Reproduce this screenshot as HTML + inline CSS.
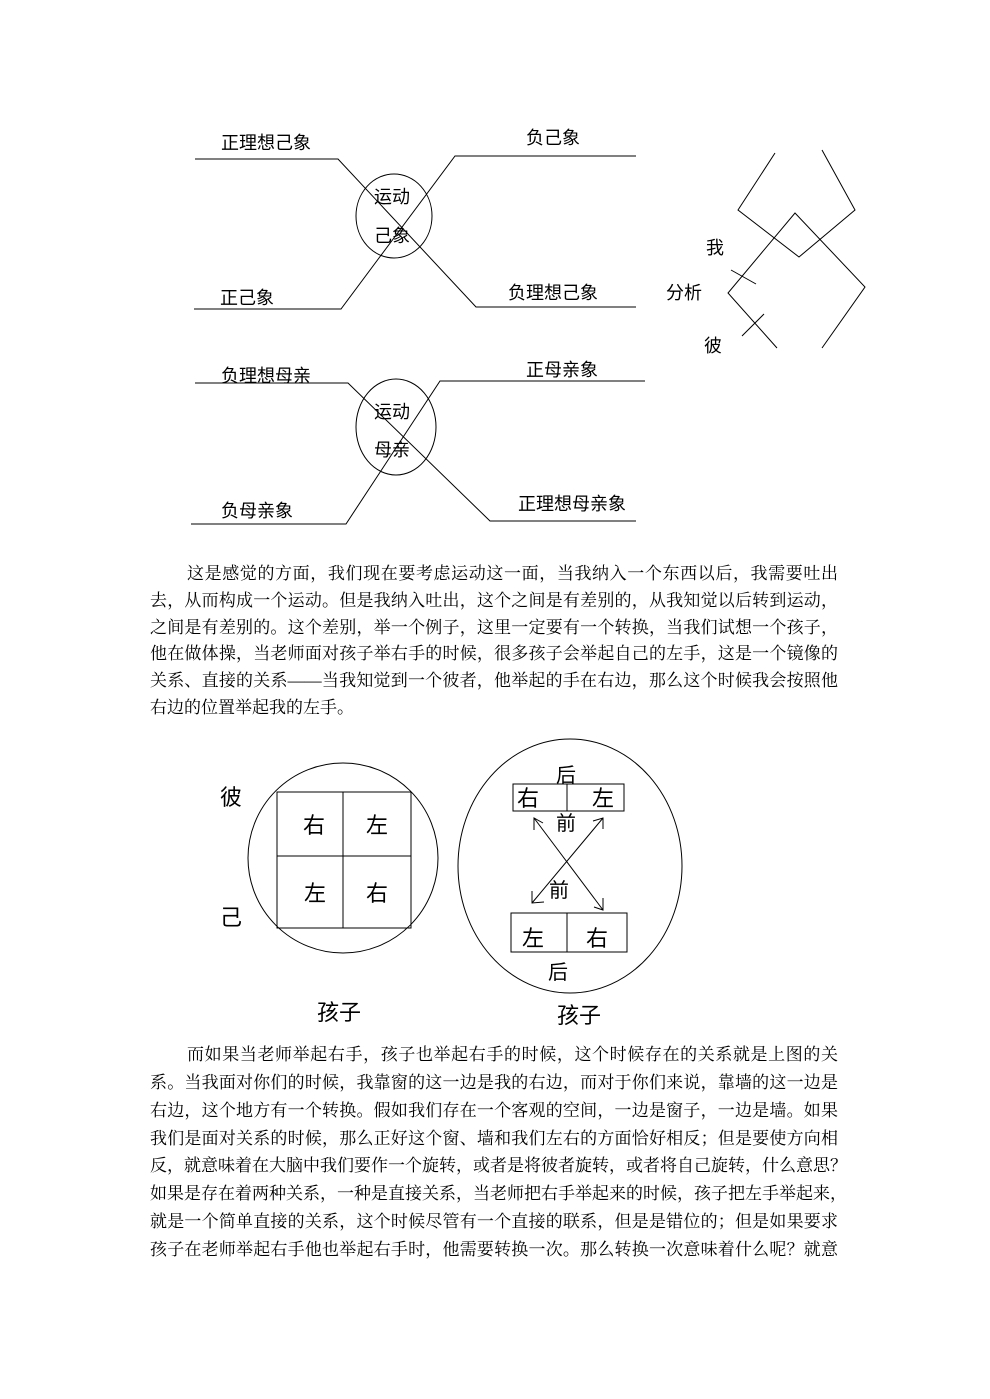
<!DOCTYPE html>
<html><head><meta charset="utf-8"><style>
html,body{margin:0;padding:0;background:#fff;}
body{width:990px;height:1399px;position:relative;overflow:hidden;}
svg{position:absolute;left:0;top:0;}
.t{font-family:"Liberation Sans","Noto Sans CJK SC",sans-serif;fill:#000;}
.ln{position:absolute;left:150px;width:688px;font-family:"Liberation Serif","Noto Serif CJK SC",serif;font-size:17px;line-height:20px;text-align:justify;text-align-last:justify;white-space:nowrap;color:#000;}
.last{text-align-last:left;}
</style></head><body>
<svg width="990" height="1399" viewBox="0 0 990 1399">
<g fill="none" stroke="#000" stroke-width="1">
<!-- top diagram -->
<polyline points="195,159 338,159 476,307 636,307"/>
<polyline points="636,156 455,156 341,309 194,309"/>
<ellipse cx="394" cy="216" rx="38" ry="42"/>
<!-- second diagram -->
<polyline points="195,383 348,383 490,521 636,521"/>
<polyline points="645,381 440,381 346,524 191,524"/>
<ellipse cx="396" cy="427" rx="40" ry="48"/>
<!-- right diagram -->
<polyline points="775,153 738,210 799,257 855,210 822,150"/>
<polyline points="777,348 728,293 795,213 865,287 822,348"/>
<line x1="731" y1="270" x2="756" y2="284"/>
<line x1="742" y1="336" x2="764" y2="314"/>
<!-- bottom left -->
<circle cx="343" cy="858" r="95"/>
<rect x="277" y="792" width="134" height="136"/>
<line x1="343" y1="792" x2="343" y2="928"/>
<line x1="277" y1="856" x2="411" y2="856"/>
<!-- bottom right -->
<ellipse cx="570" cy="866" rx="112" ry="127"/>
<rect x="513" y="784" width="111" height="27"/>
<line x1="567" y1="784" x2="567" y2="811"/>
<rect x="511" y="913" width="116" height="39"/>
<line x1="567" y1="913" x2="567" y2="952"/>
<line x1="534" y1="818" x2="603" y2="910"/>
<line x1="532" y1="903" x2="603" y2="818"/>
<polyline points="534,830 534,818 543,823"/>
<polyline points="593,821 603,818 603,829"/>
<polyline points="532,891 532,903 544,902"/>
<polyline points="594,907 603,910 603,898"/>
</g>
<g class="t" font-size="18" text-anchor="middle">
<text x="266" y="149">正理想己象</text>
<text x="553" y="144">负己象</text>
<text x="247" y="304">正己象</text>
<text x="553" y="299">负理想己象</text>
<text x="392" y="203">运动</text>
<text x="392" y="242">己象</text>
<text x="266" y="382">负理想母亲</text>
<text x="562" y="376">正母亲象</text>
<text x="257" y="517">负母亲象</text>
<text x="572" y="510">正理想母亲象</text>
<text x="392" y="418">运动</text>
<text x="392" y="456">母亲</text>
<text x="715" y="254">我</text>
<text x="684" y="299">分析</text>
<text x="713" y="352">彼</text>
</g>
<g class="t" font-size="22" text-anchor="middle">
<text x="314" y="833">右</text>
<text x="377" y="833">左</text>
<text x="315" y="901">左</text>
<text x="377" y="901">右</text>
<text x="231" y="805">彼</text>
<text x="231" y="925">己</text>
<text x="339" y="1020">孩子</text>
<text x="579" y="1023">孩子</text>
<text x="528" y="806">右</text>
<text x="603" y="806">左</text>
<text x="533" y="946">左</text>
<text x="597" y="946">右</text>
<text x="566" y="782" font-size="20">后</text>
<text x="558" y="979" font-size="20">后</text>
<text x="566" y="830" font-size="20">前</text>
<text x="559" y="897" font-size="20">前</text>
</g>
</svg>
<div class="ln" style="top:564px;left:187px;width:651px;">这是感觉的方面，我们现在要考虑运动这一面，当我纳入一个东西以后，我需要吐出</div>
<div class="ln" style="top:591px;">去，从而构成一个运动。但是我纳入吐出，这个之间是有差别的，从我知觉以后转到运动，</div>
<div class="ln" style="top:618px;">之间是有差别的。这个差别，举一个例子，这里一定要有一个转换，当我们试想一个孩子，</div>
<div class="ln" style="top:644px;">他在做体操，当老师面对孩子举右手的时候，很多孩子会举起自己的左手，这是一个镜像的</div>
<div class="ln" style="top:671px;">关系、直接的关系——当我知觉到一个彼者，他举起的手在右边，那么这个时候我会按照他</div>
<div class="ln last" style="top:698px;">右边的位置举起我的左手。</div>
<div class="ln" style="top:1045px;left:187px;width:651px;">而如果当老师举起右手，孩子也举起右手的时候，这个时候存在的关系就是上图的关</div>
<div class="ln" style="top:1073px;">系。当我面对你们的时候，我靠窗的这一边是我的右边，而对于你们来说，靠墙的这一边是</div>
<div class="ln" style="top:1101px;">右边，这个地方有一个转换。假如我们存在一个客观的空间，一边是窗子，一边是墙。如果</div>
<div class="ln" style="top:1129px;">我们是面对关系的时候，那么正好这个窗、墙和我们左右的方面恰好相反；但是要使方向相</div>
<div class="ln" style="top:1156px;">反，就意味着在大脑中我们要作一个旋转，或者是将彼者旋转，或者将自己旋转，什么意思？</div>
<div class="ln" style="top:1184px;">如果是存在着两种关系，一种是直接关系，当老师把右手举起来的时候，孩子把左手举起来，</div>
<div class="ln" style="top:1212px;">就是一个简单直接的关系，这个时候尽管有一个直接的联系，但是是错位的；但是如果要求</div>
<div class="ln" style="top:1240px;">孩子在老师举起右手他也举起右手时，他需要转换一次。那么转换一次意味着什么呢？就意</div>
</body></html>
